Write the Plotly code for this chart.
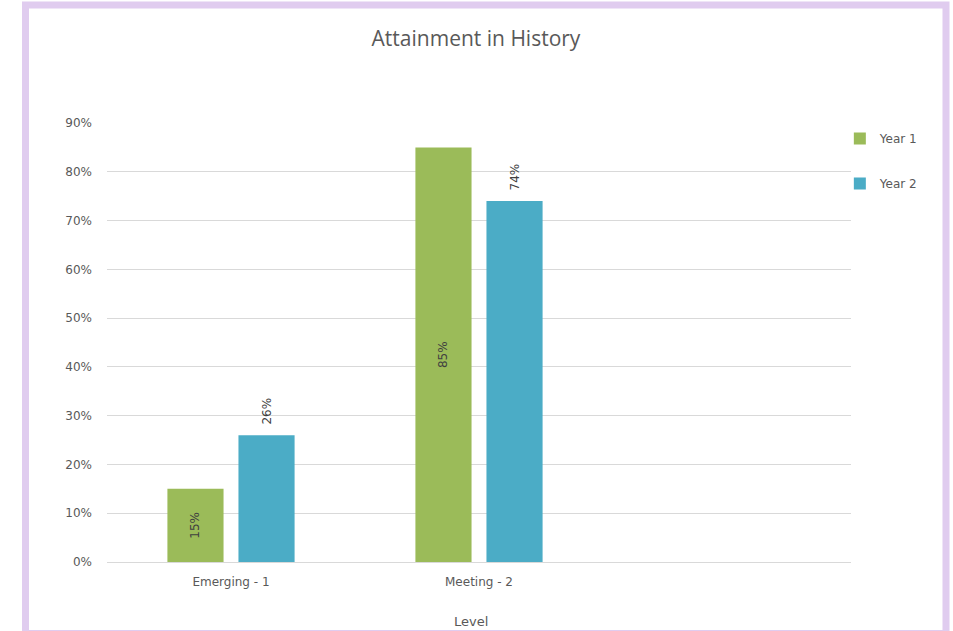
import plotly.graph_objects as go

categories = ["Emerging - 1", "Meeting - 2", " "]
year1 = [0.15, 0.85, None]
year2 = [0.26, 0.74, None]
series_names = ["Year 1", "Year 2"]
colors = ["#9BBB59", "#4BACC6"]
y_ticks = [0, 0.1, 0.2, 0.3, 0.4, 0.5, 0.6, 0.7, 0.8, 0.9]

FONT = "DejaVu Sans"
NB = "\u00a0"

fig = go.Figure()
fig.add_trace(go.Bar(
    x=categories, y=year1, name=series_names[0], marker_color=colors[0],
    marker_line_width=0, legendgroup="a",
    text=[f"{v*100:.0f}%" if v is not None else "" for v in year1],
    textposition="inside", insidetextanchor="middle", textangle=-90,
    textfont=dict(family=FONT, size=12, color="#404040"), cliponaxis=False,
))
fig.add_trace(go.Bar(
    x=categories, y=year2, name=series_names[1], marker_color=colors[1],
    marker_line_width=0, legendgroup="b",
    text=[f"{NB}{NB}{v*100:.0f}%" if v is not None else "" for v in year2],
    textposition="outside", textangle=-90,
    textfont=dict(family=FONT, size=12, color="#404040"), cliponaxis=False,
))

fig.update_layout(
    width=953, height=631,
    margin=dict(l=107, r=102, t=123, b=69),
    paper_bgcolor="white", plot_bgcolor="white",
    barmode="group", bargap=0.427, bargroupgap=0.21,
    title=dict(text="Attainment in History", x=476 / 953, xanchor="center",
               y=1 - 39 / 631, yanchor="middle",
               font=dict(family="Open Sans", size=21, color="#595959")),
    showlegend=True,
    legend=dict(x=0.985, y=(562 - 124) / 439, xanchor="left", yanchor="top",
                tracegroupgap=26, traceorder="grouped",
                font=dict(family=FONT, size=12, color="#595959"),
                itemwidth=30, bgcolor="rgba(0,0,0,0)"),
    xaxis=dict(type="category", range=[-0.5, 2.5], showgrid=False,
               showline=True, linecolor="#D9D9D9", linewidth=1,
               ticks="", tickfont=dict(family=FONT, size=12, color="#595959"),
               ticklabelstandoff=9, fixedrange=True),
    yaxis=dict(range=[0, 0.9], tickvals=y_ticks, tickformat=".0%",
               showgrid=True, gridcolor="#D9D9D9", gridwidth=1,
               zeroline=False, showline=False, ticks="",
               tickfont=dict(family=FONT, size=12, color="#595959"),
               ticklabelstandoff=14, fixedrange=True),
    font=dict(family=FONT),
)

fig.add_annotation(text="Level", xref="paper", yref="paper",
                   x=(471 - 107) / 744, y=(562 - 621) / 439,
                   xanchor="center", yanchor="middle", showarrow=False,
                   font=dict(family=FONT, size=13, color="#595959"))

# purple frame around the chart
fig.add_shape(type="rect", xref="paper", yref="paper",
              x0=(25.5 - 107) / 744, x1=(946 - 107) / 744,
              y0=(562 - 633.5) / 439, y1=(562 - 5) / 439,
              line=dict(color="#E0CCEF", width=7), fillcolor="rgba(0,0,0,0)",
              layer="below")

fig.write_html("out.html")
